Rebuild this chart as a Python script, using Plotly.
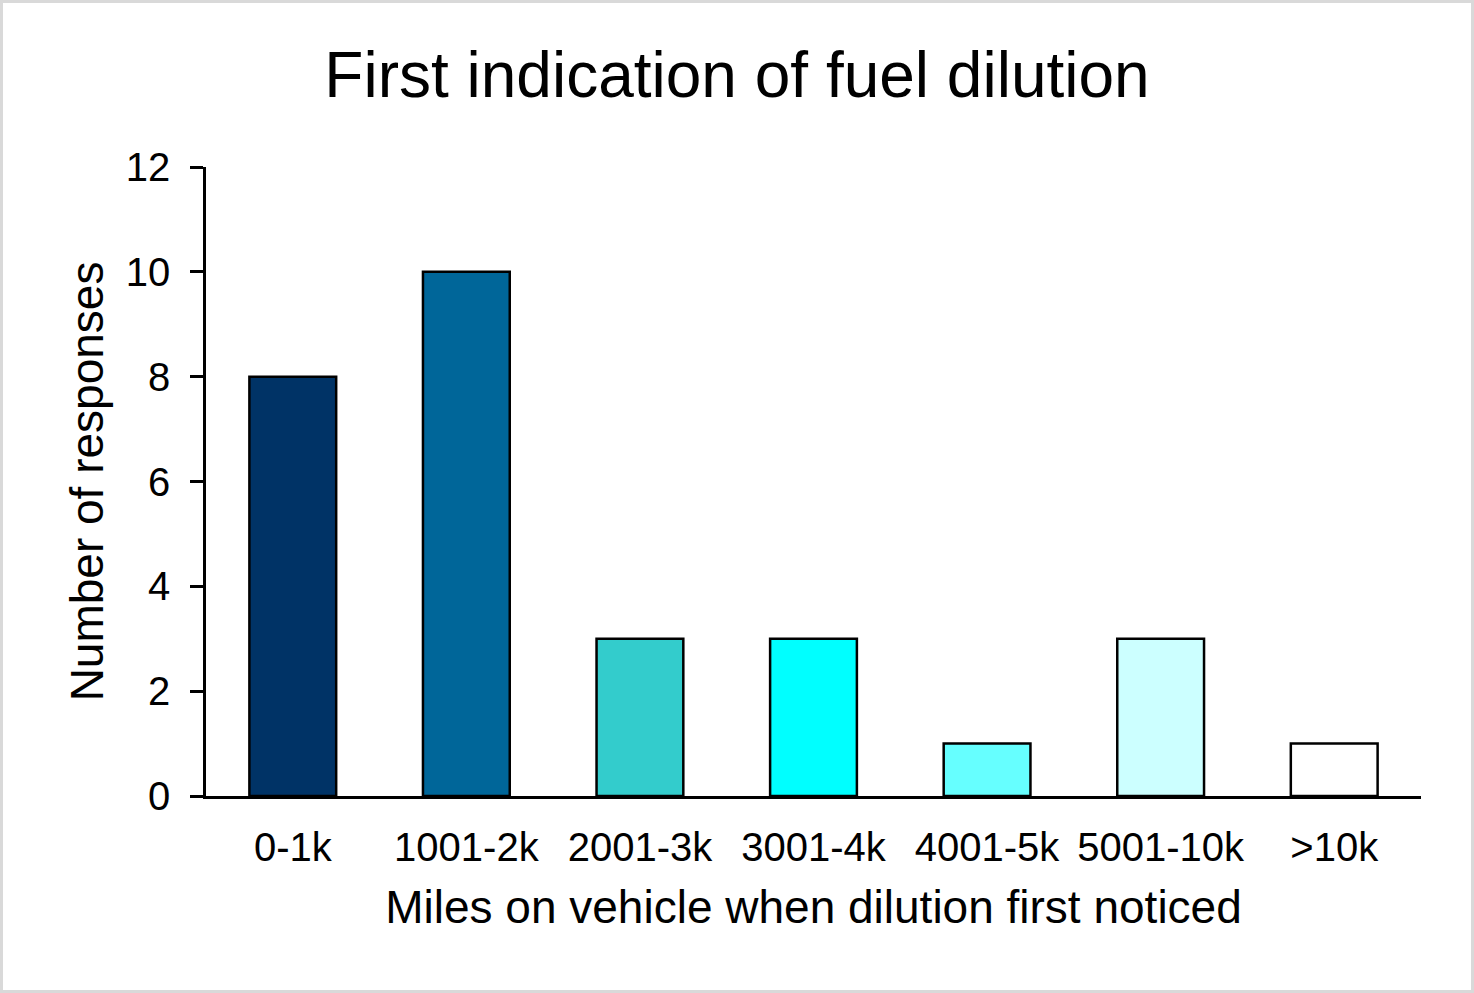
import plotly.graph_objects as go

categories = ["0-1k", "1001-2k", "2001-3k", "3001-4k", "4001-5k", "5001-10k", ">10k"]
responses = [8, 10, 3, 3, 1, 3, 1]
bar_colors = ["#003366", "#006699", "#33CCCC", "#00FFFF", "#66FFFF", "#CCFFFF", "#FFFFFF"]
y_ticks = [0, 2, 4, 6, 8, 10, 12]

FONT = "Liberation Sans, Arial, sans-serif"
W, H = 1474, 993
L, R, T, B = 206, 53, 167, 197
pw, ph = W - L - R, H - T - B

fig = go.Figure(go.Bar(
    x=categories, y=responses,
    marker=dict(color=bar_colors, line=dict(color="black", width=2.5)),
    width=0.5,
))

def px_x(x):
    return (x - L) / pw

def px_y(y):
    return (H - B - y) / ph

fig.update_layout(
    width=W, height=H,
    margin=dict(l=L, r=R, t=T, b=B, autoexpand=False),
    paper_bgcolor="white", plot_bgcolor="white",
    showlegend=False,
    font=dict(family=FONT, color="black"),
    title=dict(text="First indication of fuel dilution", x=0.5, xanchor="center",
               y=1 - 75 / H, yanchor="middle", yref="container",
               font=dict(size=64, color="black", family=FONT)),
    xaxis=dict(showline=True, linecolor="black", linewidth=2.5, ticks="",
               tickfont=dict(size=40), ticklabelstandoff=14,
               title=dict(text="Miles on vehicle when dilution first noticed",
                          font=dict(size=46), standoff=24),
               showgrid=False, zeroline=False),
    yaxis=dict(range=[0, 12], tickvals=y_ticks, showline=True, linecolor="black",
               linewidth=2.5, ticks="outside", ticklen=13, tickwidth=2.5, tickcolor="black",
               tickfont=dict(size=40), ticklabelstandoff=12,
               title=dict(text="Number of responses", font=dict(size=46), standoff=8),
               showgrid=False, zeroline=False),
    shapes=[dict(type="rect", xref="paper", yref="paper",
                 x0=px_x(1.5), x1=px_x(W - 1.5), y0=px_y(H - 1.5), y1=px_y(1.5),
                 line=dict(color="#d9d9d9", width=3), layer="below")],
)

fig.write_html("out.html")
